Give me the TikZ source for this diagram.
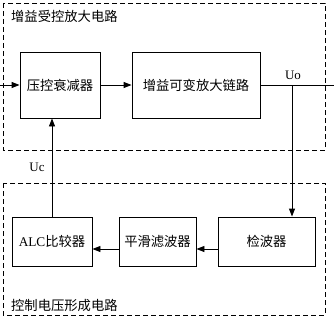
\documentclass[tikz,border=0pt]{standalone}
\usepackage{fontspec}
\setmainfont{Liberation Serif}
\newfontfamily\cjk{Noto Sans CJK SC}
\usetikzlibrary{arrows.meta}
\begin{document}
\begin{tikzpicture}[x=1pt,y=-1pt,
  blk/.style={draw,line width=0.9pt,inner sep=0pt,font=\cjk\fontsize{13.3}{15}\selectfont},
  grp/.style={draw,line width=0.9pt,dash pattern=on 5pt off 3pt},
  lbl/.style={font=\cjk\fontsize{13.3}{15}\selectfont,anchor=west,inner sep=0pt},
  vl/.style={font=\fontsize{13}{15}\selectfont,inner sep=0pt},
  conn/.style={line width=0.9pt,-{Triangle[length=8pt,width=6pt]}},
  wire/.style={line width=0.9pt}]
\useasboundingbox (0,0) rectangle (334,321);
\fill[white] (0,0) rectangle (334,321);
% groups
\draw[grp] (3,3) rectangle (325,150);
\draw[grp] (3,183) rectangle (325,315);
\node[lbl] (t1) at (11,16) {增益受控放大电路};
\node[lbl] (t2) at (11,305) {控制电压形成电路};
% blocks
\node[blk,minimum width=80pt,minimum height=66pt] (att) at (60,85) {压控衰减器};
\node[blk,minimum width=128pt,minimum height=66pt] (amp) at (196,85) {增益可变放大链路};
\node[blk,minimum width=97pt,minimum height=49pt] (det) at (266.5,241.5) {\raisebox{2pt}{检波器}};
\node[blk,minimum width=77pt,minimum height=49pt] (flt) at (157.5,241.5) {\raisebox{2pt}{平滑滤波器}};
\node[blk,minimum width=80pt,minimum height=49pt] (alc) at (52,241.5) {\raisebox{2pt}{{\rmfamily ALC}比较器}};
% coordinates
\coordinate (in) at (0,85);
\coordinate (out) at (334,85);
\coordinate (br) at (292,85);
% connectors
\draw[conn] (in) -- (att.west);
\draw[conn] (att.east) -- (amp.west);
\draw[wire] (amp.east) -- (out);
\draw[conn] (br) -- (det.north -| br);
\draw[conn] (det.west |- 0,249) -- (flt.east |- 0,249);
\draw[conn] (flt.west |- 0,249) -- (alc.east |- 0,249);
\draw[conn] (alc.north -| 52,0) -- (att.south -| 52,0);
\node[vl] (uo) at (293,75) {Uo};
\node[vl] (uc) at (37,167) {Uc};
\end{tikzpicture}
\end{document}
